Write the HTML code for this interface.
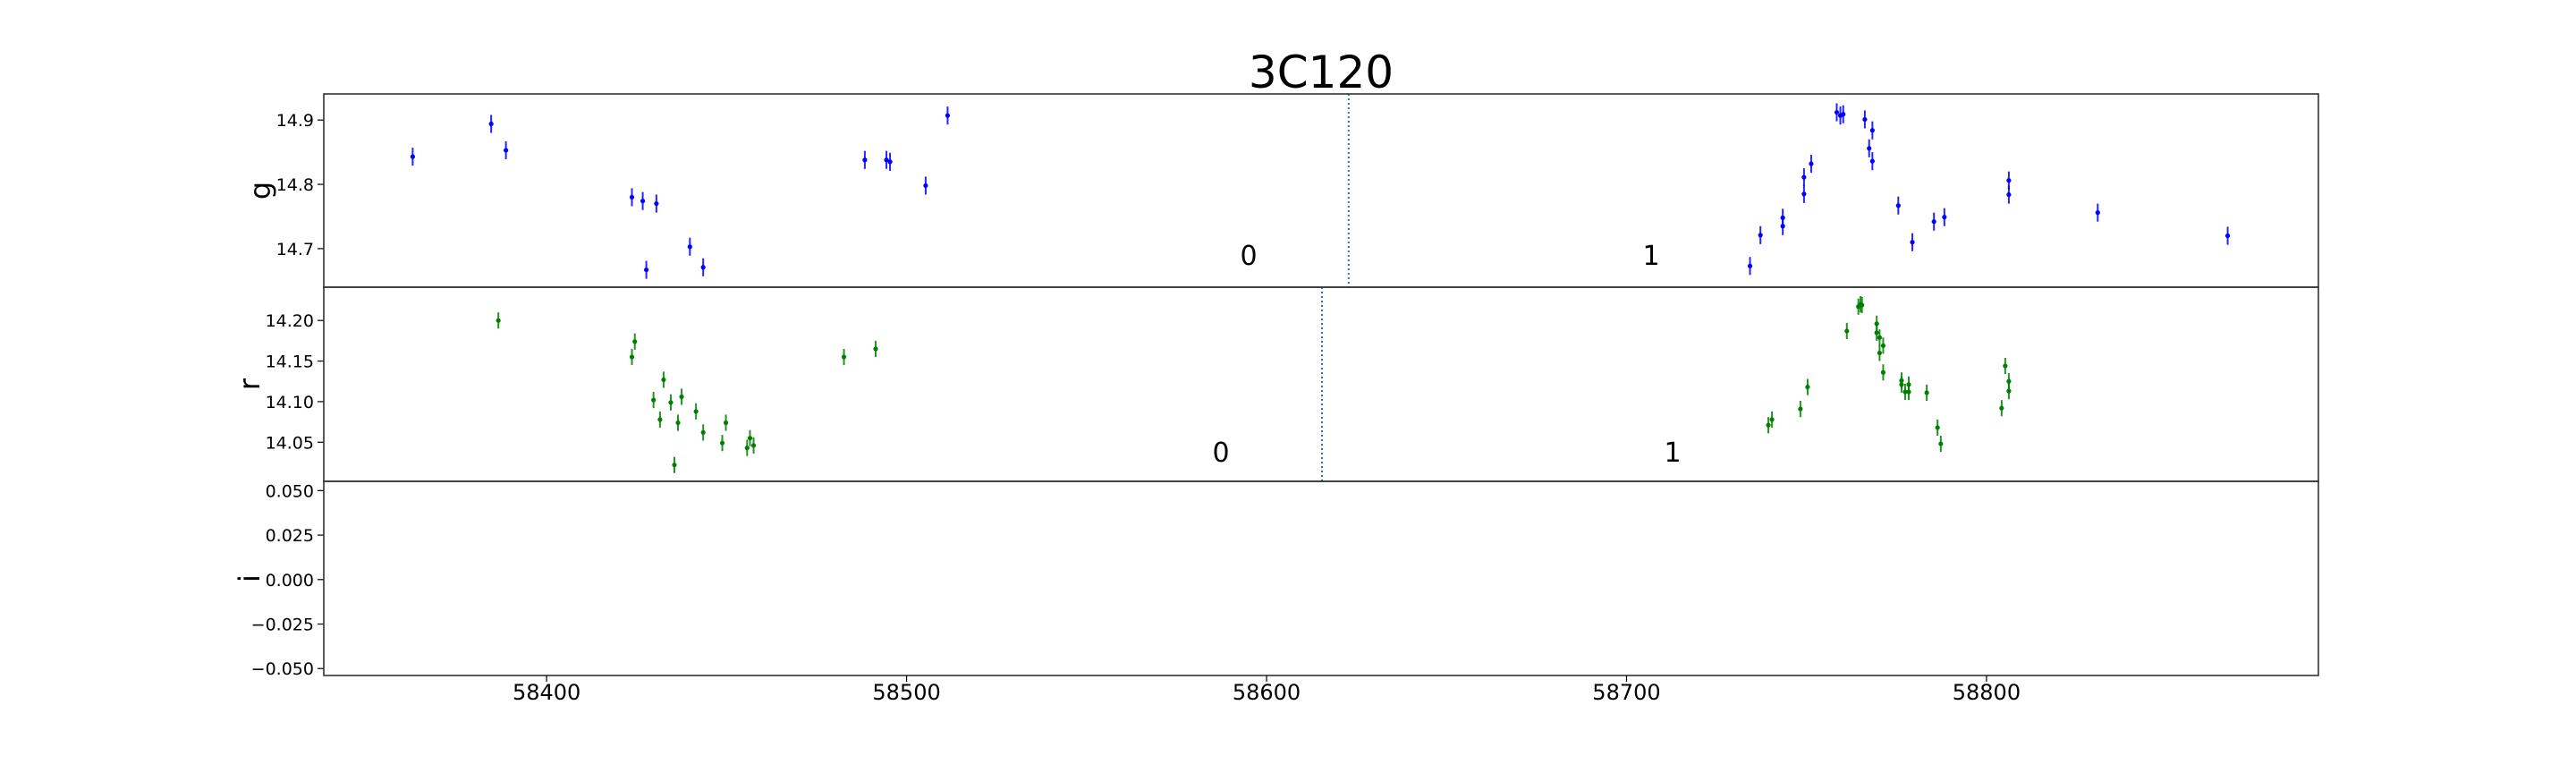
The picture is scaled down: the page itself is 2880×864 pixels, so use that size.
<!DOCTYPE html>
<html><head><meta charset="utf-8"><style>
html,body{margin:0;padding:0;background:#fff;}
svg{display:block;font-family:"DejaVu Sans","Liberation Sans",sans-serif;}
</style></head><body>
<svg id="chart" width="2880" height="864" viewBox="0 0 2880 864" xmlns="http://www.w3.org/2000/svg">
<text x="1477" y="98" font-size="50" text-anchor="middle">3C120</text>
<g id="plots"></g>
</svg>
<script>
// g band
const gMjd = [58362.8,58384.6,58388.7,58423.7,58426.7,58430.5,58427.7,58439.8,58443.5,58488.4,58494.4,58495.4,58505.3,58511.4,
 58734.3,58737.2,58743.4,58743.4,58749.3,58749.3,58751.3,58758.4,58759.4,58760.2,58766.2,58768.3,58767.4,58768.3,58775.5,58779.4,58785.4,58788.3,58806.2,58806.2,58830.9,58867];
const gMag = [14.843,14.894,14.853,14.780,14.774,14.770,14.667,14.703,14.671,14.838,14.838,14.835,14.798,14.907,
 14.673,14.721,14.748,14.735,14.811,14.785,14.832,14.912,14.907,14.909,14.901,14.884,14.856,14.836,14.767,14.710,14.742,14.749,14.806,14.784,14.756,14.720];
const gErr = 0.014;
// r band
const rMjd = [58386.6,58423.7,58424.5,58429.7,58431.5,58432.5,58434.5,58435.5,58436.5,58437.5,58441.5,58443.5,58448.8,58449.8,58455.7,58456.5,58457.5,58482.6,58491.4,
 58739.4,58740.4,58748.3,58750.3,58761.2,58764.4,58765,58765.4,58769.5,58769.5,58770.3,58771.3,58770.3,58771.3,58776.4,58776.4,58777.4,58778.4,58778.4,58783.4,58786.4,58787.3,58804.2,58805.2,58806.2,58806.2];
const rMag = [14.200,14.155,14.174,14.102,14.078,14.127,14.099,14.022,14.074,14.106,14.088,14.062,14.049,14.074,14.043,14.055,14.046,14.155,14.165,
 14.071,14.078,14.091,14.118,14.187,14.217,14.220,14.219,14.196,14.185,14.179,14.169,14.160,14.136,14.126,14.121,14.112,14.121,14.112,14.111,14.068,14.048,14.092,14.144,14.125,14.113];
const rErr = 0.010;
// markers
const gSplit = 58622.8, rSplit = 58615.4;
const xTicks = [58400,58500,58600,58700,58800];
const gTicks = [14.7,14.8,14.9];
const rTicks = [14.05,14.10,14.15,14.20];
const iTicks = [-0.050,-0.025,0.000,0.025,0.050];

const NS="http://www.w3.org/2000/svg";
const root=document.getElementById('plots');
const L=362,R=2592;
const xMin=58338.1,xMax=58892.2;
function X(v){return L+(v-xMin)/(xMax-xMin)*(R-L);}
function mk(tag,attrs,parent){const e=document.createElementNS(NS,tag);for(const k in attrs)e.setAttribute(k,attrs[k]);(parent||root).appendChild(e);return e;}

const panels=[
 {name:'g',top:105,bot:321,min:14.640,max:14.9406,ticks:gTicks,fmt:1,color:'#0000ff',mjd:gMjd,mag:gMag,err:gErr,split:gSplit,lab:[[1396,296,'0'],[1846,296,'1']]},
 {name:'r',top:321,bot:538,min:14.0018,max:14.241,ticks:rTicks,fmt:2,color:'#008000',mjd:rMjd,mag:rMag,err:rErr,split:rSplit,lab:[[1365,516,'0'],[1870,516,'1']]},
 {name:'i',top:538,bot:755,min:-0.0539,max:0.0552,ticks:iTicks,fmt:3,color:'#000',mjd:[],mag:[],err:0,split:null,lab:[]}
];
panels.forEach(p=>{
 const Y=v=>p.bot-(v-p.min)/(p.max-p.min)*(p.bot-p.top);
 const g=mk('g',{});
 
 
 if(p.split!==null){
  const s=mk('line',{x1:X(p.split),x2:X(p.split),y1:p.top,y2:p.bot,stroke:'#1f77b4','stroke-width':2,'stroke-dasharray':'2,3'},g);
  
  
 }
 p.mjd.forEach((m,i)=>{
  const cx=X(m),cy=Y(p.mag[i]);
  const pt=mk('g',{},g);
  
  
  mk('line',{x1:cx,x2:cx,y1:Y(p.mag[i]+p.err),y2:Y(p.mag[i]-p.err),stroke:p.color,'stroke-width':2,opacity:0.85},pt);
  mk('circle',{cx:cx,cy:cy,r:2.6,fill:p.color},pt);
 });
 p.lab.forEach(l=>{
  const t=mk('text',{x:l[0],y:l[1],'font-size':30,'text-anchor':'middle'},g);
  t.textContent=l[2];
  
  
 });
 p.ticks.forEach(v=>{
  const y=Y(v);
  mk('line',{x1:355,x2:362,y1:y,y2:y,stroke:'#000','stroke-width':1.2},g);
  const t=mk('text',{x:351,y:y+7,'font-size':19,'text-anchor':'end'},g);
  t.textContent=v.toFixed(p.fmt).replace('-','\u2212');
  
  
 });
 const yl=mk('text',{x:0,y:0,'font-size':32,'text-anchor':'middle',transform:`translate(${p.name==='g'?302:290},${(p.top+p.bot)/2}) rotate(-90)`},g);
 yl.textContent=p.name;
 
 
 const fr=mk('rect',{x:L,y:p.top,width:R-L,height:p.bot-p.top,fill:'none',stroke:'#333','stroke-width':1.6},g);
 
 
});
xTicks.forEach(v=>{
 const x=X(v);
 mk('line',{x1:x,x2:x,y1:755,y2:762,stroke:'#000','stroke-width':1.2});
 const t=mk('text',{x:x,y:782,'font-size':24,'text-anchor':'middle'});
 t.textContent=v;
 
 
});
</script>
</body></html>
